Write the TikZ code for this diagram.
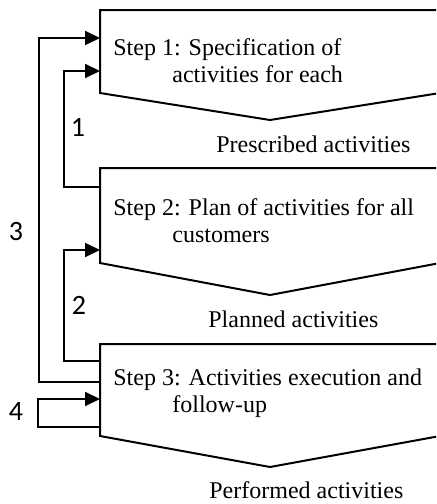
\documentclass[tikz,border=0pt]{standalone}
\usepackage{fontspec}
\setmainfont{Liberation Serif}
\newfontfamily\digitfont{Carlito}
\usetikzlibrary{arrows.meta}

\tikzset{
  stepshape/.style={draw=black, line width=1pt, fill=white},
  flowline/.style={draw=black, line width=1pt},
  flowarrow/.style={flowline, -{Triangle[length=7.5pt,width=7pt]}},
  steptext/.style={anchor=base west, align=left, inner sep=0pt, font=\fontsize{12}{13.5}\selectfont},
  outtext/.style={anchor=base west, inner sep=0pt, font=\fontsize{12}{13.5}\selectfont},
  looplabel/.style={inner sep=0pt, font=\digitfont\fontsize{14}{16}\selectfont}
}

\begin{document}
\begin{tikzpicture}[x=0.5pt,y=-0.5pt]
\useasboundingbox (0,0) rectangle (436,504);
\clip (0,0) rectangle (436,504);
% the three steps
\draw[stepshape] (100,10) -- (440,10) -- (440,93) -- (270,120) -- (100,93) -- cycle;
\draw[stepshape] (100,168) -- (440,168) -- (440,263) -- (270,295) -- (100,263) -- cycle;
\draw[stepshape] (100,344) -- (440,344) -- (440,436) -- (270,467) -- (100,436) -- cycle;
% base anchor sits on the second line
\node[steptext] (t1) at (113,82) {Step 1: Specification of\\\hspace*{29.5pt}activities for each};
\node[steptext] (t2) at (113,242) {Step 2: Plan of activities for all\\\hspace*{29.5pt}customers};
\node[steptext] (t3) at (113,412) {Step 3: Activities execution and\\\hspace*{29.5pt}follow-up};
\node[outtext] (o1) at (216,152) {Prescribed activities};
\node[outtext] (o2) at (208,327) {Planned activities};
\node[outtext] (o3) at (209,498) {Performed activities};
% points on the left sides
\coordinate (s1a) at (100,38);
\coordinate (s1b) at (100,71);
\coordinate (s2a) at (100,187);
\coordinate (s2b) at (100,250);
\coordinate (s3a) at (100,361);
\coordinate (s3b) at (100,382);
\coordinate (s3c) at (100,399);
\coordinate (s3d) at (100,427);
% feedback loops
\draw[flowarrow] (s2a) -- ++(-36,0) |- (s1b);
\draw[flowarrow] (s3a) -- ++(-36,0) |- (s2b);
\draw[flowarrow] (s3b) -- ++(-61,0) |- (s1a);
\draw[flowarrow] (s3d) -- ++(-62,0) |- (s3c);
\node[looplabel] (l1) at (78,127) {1};
\node[looplabel] (l2) at (79,305) {2};
\node[looplabel] (l3) at (16,232) {3};
\node[looplabel] (l4) at (16,412) {4};
\end{tikzpicture}
\end{document}
